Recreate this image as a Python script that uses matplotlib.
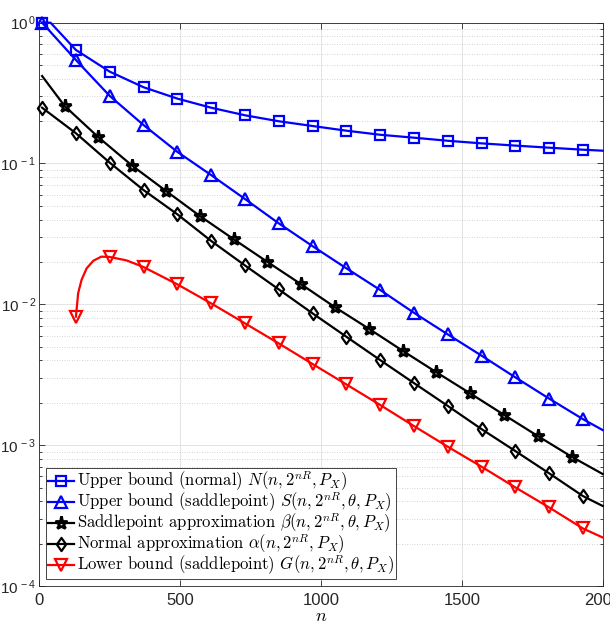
import numpy as np
import matplotlib
matplotlib.use("Agg")
import matplotlib.pyplot as plt
from matplotlib.ticker import FixedLocator, FuncFormatter, LogLocator, NullFormatter
from matplotlib.font_manager import FontProperties
from matplotlib.path import Path

# ---- data ----
n_norm = [10, 40, 130, 250, 370, 490, 610, 730, 850, 970, 1090, 1210, 1330,
          1450, 1570, 1690, 1810, 1930, 2000]
upper_normal = [1.0, 1.0, 0.64, 0.449, 0.348, 0.289, 0.249, 0.220, 0.1995,
                0.1846, 0.171, 0.160, 0.1525, 0.145, 0.139, 0.134, 0.1295,
                0.1253, 0.1233]

n_sp = [10, 130, 250, 370, 490, 610, 730, 850, 970, 1090, 1210, 1330, 1450,
        1570, 1690, 1810, 1930, 2000]
upper_saddle = [1.0, 0.543, 0.302, 0.1876, 0.121, 0.0828, 0.056, 0.0376,
                0.0259, 0.01803, 0.01265, 0.00871, 0.00612, 0.00432, 0.00303,
                0.00214, 0.00153, 0.00128]

n_beta = [10, 90, 210, 330, 450, 570, 690, 810, 930, 1050, 1170, 1290, 1410,
          1530, 1650, 1770, 1890, 2000]
saddle_approx = [0.418, 0.256, 0.1535, 0.0964, 0.0638, 0.0424, 0.0290, 0.0200,
                 0.01386, 0.00953, 0.00671, 0.00468, 0.00329, 0.00233,
                 0.00164, 0.00116, 0.000827, 0.000624]

n_alpha = [10, 130, 250, 370, 490, 610, 730, 850, 970, 1090, 1210, 1330, 1450,
           1570, 1690, 1810, 1930, 2000]
normal_approx = [0.249, 0.164, 0.1014, 0.0648, 0.0436, 0.0282, 0.0189, 0.01277,
                 0.00863, 0.00589, 0.00402, 0.00276, 0.00190, 0.00130,
                 0.000908, 0.000631, 0.000435, 0.000370]

n_low = [130, 138, 150, 168, 192, 220, 250, 310, 370, 490, 610, 730, 850, 970,
         1090, 1210, 1330, 1450, 1570, 1690, 1810, 1930, 2000]
lower_saddle = [0.00817, 0.0120, 0.0149, 0.0180, 0.0204, 0.0218, 0.0217,
                0.0205, 0.0184, 0.01387, 0.01016, 0.00733, 0.00528, 0.00377,
                0.00270, 0.00193, 0.001367, 0.000975, 0.000703, 0.000501,
                0.000361, 0.000256, 0.000221]

marker_n = [10 + 120 * k for k in range(17)]
marker_n_beta = [90 + 120 * k for k in range(16)]

labels = [
    r'Upper bound (normal) $N(n,2^{nR},P_X)$',
    r'Upper bound (saddlepoint) $S(n,2^{nR},\theta,P_X)$',
    r'Saddlepoint approximation $\beta(n,2^{nR},\theta,P_X)$',
    r'Normal approximation $\alpha(n,2^{nR},P_X)$',
    r'Lower bound (saddlepoint) $G(n,2^{nR},\theta,P_X)$',
]

plt.rcParams['mathtext.fontset'] = 'cm'
plt.rcParams['font.family'] = ['Liberation Sans', 'DejaVu Sans']
plt.rcParams['axes.unicode_minus'] = False

# matlab-like diamond (narrower than a rotated square)
diamond = Path([(0, 1), (0.7, 0), (0, -1), (-0.7, 0), (0, 1)],
               [Path.MOVETO, Path.LINETO, Path.LINETO, Path.LINETO, Path.CLOSEPOLY])

fig = plt.figure(figsize=(6.10, 6.28), dpi=100)
ax = fig.add_axes([0.0644, 0.0669, 0.9236, 0.8970])

series = [
    (n_norm, upper_normal, marker_n, 'b', 's', 6.5, 1.6),
    (n_sp, upper_saddle, marker_n, 'b', '^', 9, 1.6),
    (n_beta, saddle_approx, marker_n_beta, 'k', '*', 9.5, 2.0),
    (n_alpha, normal_approx, marker_n, 'k', diamond, 9.5, 1.6),
    (n_low, lower_saddle, marker_n, 'r', 'v', 9, 1.6),
]

for (xs, ys, mk, col, m, ms, mew), lab in zip(series, labels):
    idx = [i for i, v in enumerate(xs) if v in mk]
    ax.plot(xs, ys, color=col, lw=1.6, marker=m, ms=ms, mew=mew,
            mfc='none', mec=col, markevery=idx, label=lab, clip_on=False,
            zorder=3)

ax.set_yscale('log')
ax.set_xlim(0, 2000)
ax.set_ylim(1e-4, 1)
ax.set_xticks([0, 500, 1000, 1500, 2000])
ax.yaxis.set_major_locator(FixedLocator([1e-4, 1e-3, 1e-2, 1e-1, 1]))
ax.yaxis.set_minor_locator(LogLocator(base=10, subs=np.arange(2, 10), numticks=20))
ax.yaxis.set_minor_formatter(NullFormatter())
ax.yaxis.set_major_formatter(FuncFormatter(
    lambda v, p: r'$\mathregular{10^{\,%d}}$' % int(round(np.log10(v)))))

tick_col = '#262626'
ax.tick_params(which='both', direction='in', top=True, right=True,
               colors=tick_col, labelsize=12, width=0.6)
ax.tick_params(which='major', length=4.5)
ax.tick_params(which='minor', length=2.5)
ax.tick_params(axis='x', pad=5)
ax.tick_params(axis='y', pad=2, labelsize=11)
for s in ax.spines.values():
    s.set_color(tick_col)
    s.set_linewidth(0.6)

ax.grid(which='major', color='#dedede', lw=0.6)
ax.grid(which='minor', axis='y', color='#c4c4c4', lw=0.6, ls=(0, (1, 2)))
ax.set_axisbelow(True)

ax.set_xlabel(r'$n$', fontsize=13, labelpad=0)

leg_font = FontProperties(family='cmr10', size=12.0)
leg = ax.legend(loc='lower left', prop=leg_font, numpoints=1,
                handlelength=1.55, handletextpad=0.2, borderpad=0.12,
                labelspacing=-0.15, borderaxespad=0.4, fancybox=False,
                framealpha=1, edgecolor='#262626')
leg.get_frame().set_linewidth(0.6)

fig.savefig('out.png', dpi=100)
